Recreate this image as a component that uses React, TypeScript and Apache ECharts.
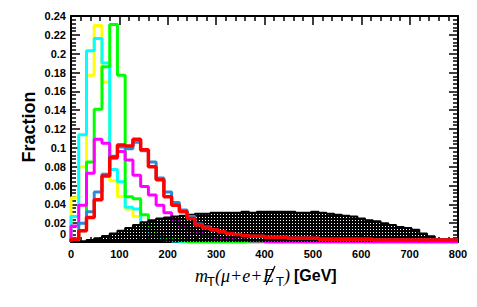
import React, { useEffect, useRef } from "react";
import * as echarts from "echarts";

const binWidth = 16;
const xTicks = [0, 100, 200, 300, 400, 500, 600, 700, 800];

const yellowVals = [0.047,0.080,0.177,0.230,0.170,0.065,0.048,0.035,0.027,0.015,0.010,0.006,0.004,0.003,0.002,0.001,0,0,0,0,0,0,0,0,0,0,0,0,0,0,0,0,0,0,0,0,0,0,0,0,0,0,0,0,0,0,0,0,0,0];
const cyanVals = [0.027,0.114,0.203,0.216,0.190,0.077,0.064,0.037,0.035,0.015,0.008,0.004,0.002,0.001,0,0,0,0,0,0,0,0,0,0,0,0,0,0,0,0,0,0,0,0,0,0,0,0,0,0,0,0,0,0,0,0,0,0,0,0];
const greenVals = [0.003,0.012,0.085,0.141,0.186,0.231,0.177,0.048,0.046,0.029,0.015,0.008,0.004,0.002,0.001,0,0,0,0,0,0,0,0,0,0,0,0,0,0,0,0,0,0,0,0,0,0,0,0,0,0,0,0,0,0,0,0,0,0,0];
const magentaVals = [0.017,0.039,0.073,0.109,0.105,0.089,0.096,0.087,0.071,0.059,0.050,0.039,0.031,0.022,0.017,0.012,0.009,0.007,0.005,0.004,0.003,0.002,0.002,0.001,0.001,0,0,0,0,0,0,0,0,0,0,0,0,0,0,0,0,0,0,0,0,0,0,0,0,0];
const redVals = [0.003,0.012,0.026,0.045,0.070,0.090,0.103,0.102,0.109,0.098,0.080,0.066,0.048,0.039,0.032,0.025,0.018,0.015,0.013,0.011,0.009,0.008,0.007,0.006,0.006,0.005,0.005,0.005,0.004,0.004,0.004,0.004,0.003,0.003,0.003,0.003,0.003,0.003,0.003,0.002,0.002,0.002,0.002,0.002,0.002,0.002,0.002,0.002,0.002,0.002];
const blueVals = [0.003,0.020,0.032,0.053,0.072,0.091,0.101,0.099,0.106,0.097,0.085,0.068,0.053,0.042,0.034,0.027,0.019,0.016,0.013,0.011,0.009,0.008,0.007,0.006,0.006,0.005,0.005,0.005,0.004,0.004,0.004,0.004,0.003,0.003,0.003,0.003,0.003,0.003,0.003,0.002,0.002,0.002,0.002,0.002,0.002,0.002,0.002,0.002,0.002,0.002];
const blackVals = [0.0005,0.001,0.002,0.004,0.0065,0.009,0.012,0.015,0.018,0.021,0.023,0.025,0.026,0.027,0.028,0.029,0.030,0.030,0.031,0.031,0.031,0.031,0.032,0.031,0.032,0.032,0.032,0.032,0.032,0.031,0.031,0.032,0.031,0.030,0.029,0.028,0.027,0.025,0.023,0.022,0.020,0.018,0.016,0.015,0.013,0.009,0.006,0.003,0.003,0.003];

function histData(vals: number[]) {
  const pts: [number, number][] = [[0, 0]];
  vals.forEach((v, i) => pts.push([i * binWidth, v]));
  pts.push([vals.length * binWidth, vals[vals.length - 1]]);
  return pts;
}

export default function App() {
  const ref = useRef<HTMLDivElement>(null);
  useEffect(() => {
    document.body.style.margin = "0";
    const c = document.createElement("canvas");
    c.width = 3;
    c.height = 3;
    const ctx = c.getContext("2d")!;
    ctx.fillStyle = "#000";
    ctx.fillRect(0, 0, 3, 3);
    ctx.clearRect(1, 1, 1, 1);
    const url = c.toDataURL();
    const chart = echarts.init(ref.current!, null, { renderer: "svg" });
    const labelFont = { fontFamily: "Liberation Sans", fontWeight: "bold" as const, fontSize: 11, color: "#000" };
    const axLine = { show: true, onZero: false, lineStyle: { color: "#000", width: 2 } };
    const tick = { show: true, inside: true, length: 9, lineStyle: { color: "#000", width: 1.5 } };
    const minor = { show: true, splitNumber: 5, length: 5, lineStyle: { color: "#000", width: 1.5 } };
    const line = (vals: number[], color: string, z: number, w = 3) => ({
      type: "line", data: histData(vals), step: "end", symbol: "none", z,
      lineStyle: { color, width: w }, xAxisIndex: 0, yAxisIndex: 0, silent: true,
    });
    chart.setOption({
      animation: false,
      grid: { left: 71, right: 19, top: 16, bottom: 65 },
      xAxis: [
        { type: "value", min: 0, max: 800, interval: 100, position: "bottom", axisLine: axLine, axisTick: tick, minorTick: minor, splitLine: { show: false }, axisLabel: { ...labelFont, margin: 6, formatter: (v: number) => String(v) } },
        { type: "value", min: 0, max: 800, interval: 100, position: "top", axisLine: axLine, axisTick: tick, minorTick: minor, splitLine: { show: false }, axisLabel: { show: false } },
      ],
      yAxis: [
        { type: "value", min: 0, max: 0.24, interval: 0.02, position: "left", axisLine: axLine, axisTick: tick, minorTick: minor, splitLine: { show: false },
          axisLabel: { ...labelFont, margin: 5, showMinLabel: true, hideOverlap: false, formatter: (v: number) => (v === 0 ? "{z|0}" : String(parseFloat(v.toFixed(2)))),
            rich: { z: { fontFamily: "Liberation Sans", fontWeight: "bold", fontSize: 11, color: "#000", padding: [0, 0, 16, 0] } } } },
        { type: "value", min: 0, max: 0.24, interval: 0.02, position: "right", axisLine: axLine, axisTick: tick, minorTick: minor, splitLine: { show: false }, axisLabel: { show: false } },
      ],
      series: [
        line(yellowVals, "#ffff00", 2),
        line(cyanVals, "#00ffff", 3),
        line(greenVals, "#00ff00", 4),
        line(magentaVals, "#ff00ff", 5),
        {
          type: "line", data: histData(blackVals), step: "end", symbol: "none", z: 6, silent: true,
          lineStyle: { color: "#000", width: 2 },
          areaStyle: { color: { image: url, repeat: "repeat", imageWidth: 3, imageHeight: 3 } as any, opacity: 1 },
        },
        line(blueVals, "#2a8cd2", 7),
        line(redVals, "#ff0000", 8, 3.5),
      ],
      graphic: [
        { type: "text", x: 29, y: 127, rotation: Math.PI / 2, style: { text: "Fraction", font: "bold 18px 'Liberation Sans'", fill: "#000", align: "center", verticalAlign: "middle" } },
        { type: "text", x: 195, y: 276, style: { text: "m", font: "italic 18px 'Liberation Serif'", fill: "#000", align: "left", verticalAlign: "middle" } },
        { type: "text", x: 207, y: 281, style: { text: "T", font: "13px 'Liberation Sans'", fill: "#000", align: "left", verticalAlign: "middle" } },
        { type: "text", x: 215, y: 276, style: { text: "(μ+e+", font: "italic 18px 'Liberation Serif'", fill: "#000", align: "left", verticalAlign: "middle" } },
        { type: "text", x: 263, y: 276, style: { text: "E", font: "italic 18px 'Liberation Serif'", fill: "#000", align: "left", verticalAlign: "middle" } },
        { type: "line", shape: { x1: 266, y1: 285, x2: 275, y2: 266 }, style: { stroke: "#000", lineWidth: 1.3 } },
        { type: "text", x: 276, y: 281, style: { text: "T", font: "13px 'Liberation Sans'", fill: "#000", align: "left", verticalAlign: "middle" } },
        { type: "text", x: 284, y: 276, style: { text: ")", font: "italic 18px 'Liberation Serif'", fill: "#000", align: "left", verticalAlign: "middle" } },
        { type: "text", x: 294, y: 275, style: { text: "[GeV]", font: "bold 16px 'Liberation Sans'", fill: "#000", align: "left", verticalAlign: "middle" } },
      ],
    });
    return () => chart.dispose();
  }, []);
  return <div ref={ref} style={{ width: 477, height: 307 }} />;
}
